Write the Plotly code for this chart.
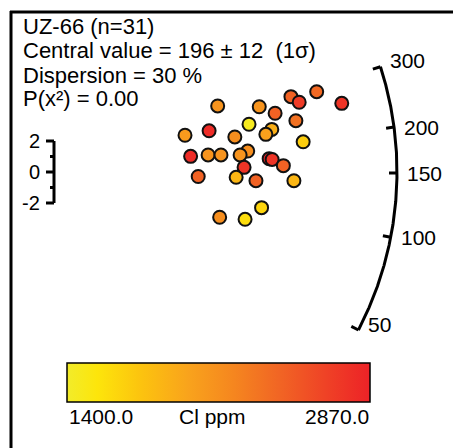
import numpy as np
import plotly.graph_objects as go

# ---------------- data ----------------
precision = [4.96, 6.22, 7.18, 7.43, 7.96, 8.72, 6.70, 7.33, 5.91, 4.70,
             3.97, 5.48, 6.60, 6.42, 7.55, 4.14, 4.67, 5.06, 5.87, 5.64,
             6.52, 6.61, 6.95, 5.76, 4.37, 5.52, 6.12, 7.27, 6.29, 5.02, 5.79]
zscore = [4.26, 4.21, 4.86, 4.50, 5.18, 4.43, 3.79, 3.31, 3.08, 2.66,
          2.37, 2.26, 2.75, 2.43, 1.95, 1.01, 1.10, 1.10, 1.35, 1.10,
          0.86, 0.81, 0.41, 0.30, -0.29, -0.34, -0.56, -0.56, -2.30, -2.92, -3.05]
cl_ppm = [2100, 2100, 2450, 2700, 2400, 2750, 2450, 2350, 1450, 2800,
          2050, 2150, 1900, 2000, 1700, 2800, 2100, 2100, 2150, 2100,
          2850, 2750, 2450, 2750, 2450, 1850, 2450, 1850, 1650, 2150, 1600]
arc_ticks = [50, 100, 150, 200, 300]
arc_from, arc_to = 50, 300
t0 = 151.0
z_ticks = [-2, 0, 2]
z_minor = [-1, 1]
cl_min, cl_max = 1400.0, 2870.0
title_lines = ["UZ-66 (n=31)",
               "Central value = 196 \u00b1 12 \u00a0(1\u03c3)",
               "Dispersion = 30 %",
               "P(x\u00b2) = 0.00"]
cl_label = "Cl ppm"

# ---------------- styling / geometry ----------------
W, H = 453, 448
OX, OY = 54, 172          # origin in pixels
PX_X, PX_Y = 33.0, 15.5   # pixels per data unit
R = 343.0                 # arc radius in pixels
FONT = "Liberation Sans, Arial, sans-serif"

xr = [-OX / PX_X, (W - OX) / PX_X]
yr = [(OY - H) / PX_Y, OY / PX_Y]

def polar_to_data(t, r_px):
    phi = np.arctan(np.log(np.asarray(t, float) / t0) * PX_Y / PX_X)
    return r_px * np.cos(phi) / PX_X, r_px * np.sin(phi) / PX_Y

colorscale = [[0.0, "#f2ec2a"], [0.1, "#fde50b"], [0.25, "#fcc20f"],
              [0.4, "#f9a31c"], [0.55, "#f5861f"], [0.7, "#f16524"],
              [0.85, "#ef4326"], [1.0, "#ed2227"]]

fig = go.Figure()

# arc
ts = np.geomspace(arc_from, arc_to, 300)
ax_, ay_ = polar_to_data(ts, R)
fig.add_trace(go.Scatter(x=ax_, y=ay_, mode="lines",
                         line=dict(color="black", width=3), hoverinfo="skip"))
# arc ticks + labels
for t in arc_ticks:
    x1, y1 = polar_to_data(t, R)
    x2, y2 = polar_to_data(t, R - 8)
    fig.add_trace(go.Scatter(x=[x1, x2], y=[y1, y2], mode="lines",
                             line=dict(color="black", width=3), hoverinfo="skip"))
    is_end = t in (arc_from, arc_to)
    fig.add_annotation(x=x1, y=y1, text=str(t), showarrow=False, xanchor="left",
                       yanchor="middle", xshift=8, yshift=6 if is_end else 0,
                       font=dict(family=FONT, size=21, color="black"))

# z scale bar
fig.add_trace(go.Scatter(x=[0, 0], y=[z_ticks[0], z_ticks[-1]], mode="lines",
                         line=dict(color="black", width=3), hoverinfo="skip"))
for z in z_ticks:
    fig.add_trace(go.Scatter(x=[0, -8 / PX_X], y=[z, z], mode="lines",
                             line=dict(color="black", width=3), hoverinfo="skip"))
    fig.add_annotation(x=-12 / PX_X, y=z, text=str(z), showarrow=False, xanchor="right",
                       yanchor="middle", font=dict(family=FONT, size=20, color="black"))
for z in z_minor:
    fig.add_trace(go.Scatter(x=[0, -4 / PX_X], y=[z, z], mode="lines",
                             line=dict(color="black", width=3), hoverinfo="skip"))

# points
fig.add_trace(go.Scatter(
    x=precision, y=zscore, mode="markers",
    marker=dict(size=13, color=cl_ppm, colorscale=colorscale, cmin=cl_min, cmax=cl_max,
                line=dict(color="#111111", width=2),
                colorbar=dict(orientation="h", x=(67 + 370) / 2 / W, xanchor="center",
                              y=1 - 363 / H, yanchor="top", len=303 / W, lenmode="fraction",
                              thickness=39, thicknessmode="pixels", xpad=0, ypad=0,
                              outlinewidth=1.5, outlinecolor="black",
                              showticklabels=False, ticks="")),
    hoverinfo="skip"))

# colour-bar labels
for txt, xp, anc in [(f"{cl_min:.1f}", 67, "left"), (cl_label, 212, "center"),
                     (f"{cl_max:.1f}", 371, "right")]:
    fig.add_annotation(xref="paper", yref="paper", x=xp / W, y=1 - 416 / H, text=txt,
                       showarrow=False, xanchor=anc, yanchor="middle",
                       font=dict(family=FONT, size=21, color="black"))

# title lines
for i, line in enumerate(title_lines):
    fig.add_annotation(xref="paper", yref="paper", x=21 / W, y=1 - (27 + 24 * i) / H,
                       text=line, showarrow=False, xanchor="left", yanchor="middle",
                       font=dict(family=FONT, size=22, color="black"))

# frame (top & left edges)
fig.add_shape(type="line", xref="paper", yref="paper", x0=10 / W, x1=1, y0=1 - 12 / H,
              y1=1 - 12 / H, line=dict(color="black", width=3))
fig.add_shape(type="line", xref="paper", yref="paper", x0=11 / W, x1=11 / W, y0=1 - 11 / H,
              y1=0, line=dict(color="black", width=3))

fig.update_layout(width=W, height=H, margin=dict(l=0, r=0, t=0, b=0),
                  paper_bgcolor="white", plot_bgcolor="white", showlegend=False,
                  xaxis=dict(range=xr, visible=False, fixedrange=True),
                  yaxis=dict(range=yr, visible=False, fixedrange=True))
fig.write_html("out.html")
